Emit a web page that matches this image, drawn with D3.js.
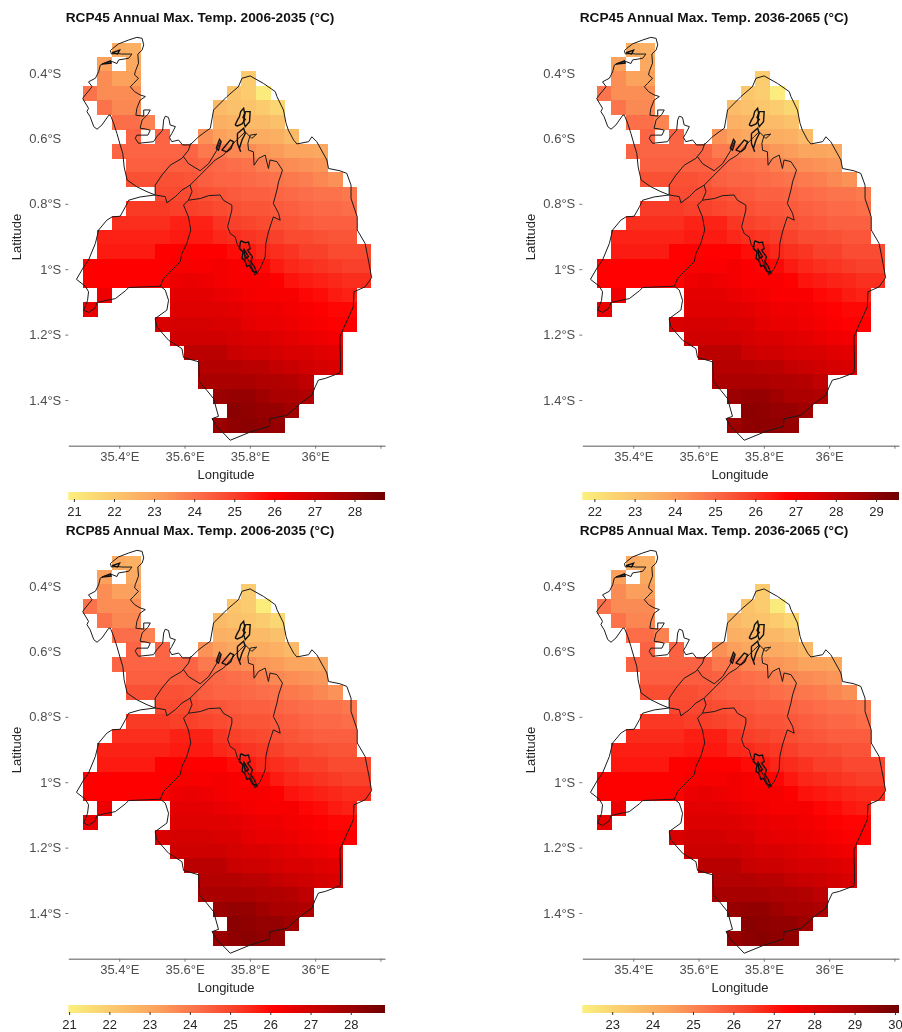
<!DOCTYPE html>
<html>
<head>
<meta charset="utf-8">
<script src="https://cdn.jsdelivr.net/npm/d3@7"></script>
<style>
  body { margin: 0; background: #fff; }
  svg { display: block; font-family: "Liberation Sans", Arial, sans-serif; filter: blur(0.4px); }
  .cell { shape-rendering: crispEdges; }
  .axis text { font-size: 13px; fill: #4d4d4d; }
  .bar-axis text { font-size: 13px; fill: #262626; }
  .axis-title { font-size: 13px; fill: #262626; text-anchor: middle; }
  .panel-title { font-size: 13.7px; font-weight: bold; fill: #111; text-anchor: middle; }
</style>
</head>
<body>
<svg id="chart" width="902" height="1032"></svg>
<script>
var _ = null;

// grid cell centres, degrees
var gridLons = [35.311, 35.355, 35.399, 35.443, 35.487, 35.532, 35.576, 35.620, 35.664, 35.708,
  35.752, 35.796, 35.840, 35.884, 35.928, 35.972, 36.017, 36.061, 36.105, 36.149];
var gridLats = [0.329, 0.373, 0.417, 0.462, 0.506, 0.550, 0.594, 0.638, 0.682, 0.726, 0.770, 0.814, 0.858, 0.902,
  0.946, 0.991, 1.035, 1.079, 1.123, 1.167, 1.211, 1.255, 1.299, 1.343, 1.388, 1.432, 1.476];

var titles = [
  "RCP45 Annual Max. Temp. 2006-2035 (°C)",
  "RCP45 Annual Max. Temp. 2036-2065 (°C)",
  "RCP85 Annual Max. Temp. 2006-2035 (°C)",
  "RCP85 Annual Max. Temp. 2036-2065 (°C)"
];

var lonTicks = [35.4, 35.6, 35.8, 36, 36.2];
var lonLabels = ["35.4°E", "35.6°E", "35.8°E", "36°E", ""];
var latTicks = [0.4, 0.6, 0.8, 1, 1.2, 1.4];
var latLabels = ["0.4°S", "0.6°S", "0.8°S", "1°S", "1.2°S", "1.4°S"];

// colour bar extents and ticks per panel
var barRanges = [[20.86, 28.76], [21.70, 29.57], [20.98, 28.85], [22.26, 30.10]];
var barTicks = [
  [21, 22, 23, 24, 25, 26, 27, 28],
  [22, 23, 24, 25, 26, 27, 28, 29],
  [21, 22, 23, 24, 25, 26, 27, 28],
  [23, 24, 25, 26, 27, 28, 29, 30]
];
var rampStops = [0, 0.28, 0.42, 0.53, 0.65, 1];
var rampColors = ["#fbf07e", "#fba25d", "#fc6a47", "#f93e28", "#ff0000", "#6e0000"];

var tempRcp45Near = [
  [_,_,22.8,22.7],
  [_,23.1,_,22.9],
  [_,23.5,23.1,23.1,_,_,_,_,_,_,_,21.9],
  [24.0,23.5,23.5,23.5,_,_,_,_,_,_,22.1,21.9,21.0],
  [_,24.0,23.6,23.6,_,_,_,_,_,22.4,22.2,22.1,21.9,21.6],
  [_,_,24.1,24.1,23.7,_,_,_,_,22.7,22.6,22.4,22.4,22.2],
  [_,_,_,24.3,_,24.3,_,_,23.4,23.1,22.9,22.8,22.8,22.7,22.4],
  [_,_,24.3,24.3,24.3,24.3,24.3,24.3,23.9,23.9,23.6,23.5,23.3,23.2,23.0,23.0,22.9],
  [_,_,_,24.4,24.4,24.4,24.4,24.4,24.3,24.2,24.1,24.0,23.8,23.6,23.5,23.4,23.3],
  [_,_,_,24.7,24.7,24.7,24.7,24.6,24.4,24.3,24.3,24.2,24.1,24.0,23.9,23.8,23.6,23.4],
  [_,_,_,_,_,24.8,24.8,24.8,24.7,24.6,24.5,24.4,24.4,24.3,24.2,24.1,24.0,24.0,23.9],
  [_,_,_,25.1,25.1,25.1,25.0,25.0,24.9,24.8,24.7,24.6,24.6,24.5,24.4,24.3,24.2,24.2,24.1],
  [_,_,25.3,25.3,25.3,25.3,25.5,25.5,25.5,25.2,25.0,24.9,24.8,24.7,24.6,24.5,24.4,24.4,24.4],
  [_,25.5,25.5,25.5,25.5,25.5,25.6,25.6,25.6,25.4,25.3,25.2,25.1,25.0,24.8,24.8,24.7,24.6,24.6],
  [_,25.6,25.6,25.6,25.6,26.0,26.0,26.0,26.0,26.0,25.8,25.6,25.4,25.3,25.2,25.0,25.0,24.8,24.8,24.8],
  [26.0,26.0,26.0,26.0,26.0,26.0,26.1,26.1,26.1,26.2,26.1,26.0,25.9,25.6,25.4,25.3,25.2,25.1,25.0,25.0],
  [26.0,26.0,26.0,26.0,26.0,26.0,26.3,26.4,26.3,26.2,26.1,26.1,26.1,26.0,25.7,25.6,25.5,25.4,25.3,25.3],
  [_,26.3,_,_,_,_,26.5,26.5,26.5,26.4,26.3,26.2,26.1,26.1,26.1,25.9,25.8,25.6,25.5],
  [26.4,_,_,_,_,_,26.6,26.6,26.6,26.6,26.5,26.4,26.3,26.3,26.2,26.1,26.0,25.9,25.9],
  [_,_,_,_,_,26.7,26.8,26.8,26.8,26.7,26.7,26.5,26.4,26.4,26.3,26.2,26.1,26.0,26.0],
  [_,_,_,_,_,_,26.9,26.9,26.9,26.9,26.8,26.7,26.7,26.6,26.5,26.4,26.3,26.2],
  [_,_,_,_,_,_,_,27.3,27.3,27.3,27.0,26.9,26.9,26.8,26.7,26.7,26.6,26.5],
  [_,_,_,_,_,_,_,_,27.4,27.4,27.4,27.3,27.3,27.1,27.0,26.9,26.8,26.7],
  [_,_,_,_,_,_,_,_,27.6,27.6,27.6,27.6,27.5,27.5,27.4,27.2],
  [_,_,_,_,_,_,_,_,_,27.9,28.0,28.0,27.8,27.6,27.6,27.5],
  [_,_,_,_,_,_,_,_,_,_,28.2,28.1,28.0,28.0,27.8],
  [_,_,_,_,_,_,_,_,_,27.9,28.1,28.2,28.1,28.0]
];

var tempRcp45Far = [
  [_,_,23.6,23.5],
  [_,23.9,_,23.7],
  [_,24.3,23.9,23.9,_,_,_,_,_,_,_,22.7],
  [24.8,24.3,24.3,24.3,_,_,_,_,_,_,22.9,22.7,21.8],
  [_,24.8,24.4,24.4,_,_,_,_,_,23.2,23.0,22.9,22.7,22.4],
  [_,_,24.9,24.9,24.5,_,_,_,_,23.5,23.4,23.2,23.2,23.0],
  [_,_,_,25.1,_,25.1,_,_,24.2,23.9,23.7,23.6,23.6,23.5,23.2],
  [_,_,25.1,25.1,25.1,25.1,25.1,25.1,24.7,24.7,24.4,24.3,24.1,24.0,23.8,23.8,23.7],
  [_,_,_,25.2,25.2,25.2,25.2,25.2,25.1,25.0,24.9,24.8,24.6,24.4,24.3,24.2,24.1],
  [_,_,_,25.5,25.5,25.5,25.5,25.4,25.2,25.1,25.1,25.0,24.9,24.8,24.7,24.6,24.4,24.2],
  [_,_,_,_,_,25.6,25.6,25.6,25.5,25.4,25.3,25.2,25.2,25.1,25.0,24.9,24.8,24.8,24.7],
  [_,_,_,25.9,25.9,25.9,25.8,25.8,25.7,25.6,25.5,25.4,25.4,25.3,25.2,25.1,25.0,25.0,24.9],
  [_,_,26.1,26.1,26.1,26.1,26.3,26.3,26.3,26.0,25.8,25.7,25.6,25.5,25.4,25.3,25.2,25.2,25.2],
  [_,26.3,26.3,26.3,26.3,26.3,26.4,26.4,26.4,26.2,26.1,26.0,25.9,25.8,25.6,25.6,25.5,25.4,25.4],
  [_,26.4,26.4,26.4,26.4,26.8,26.8,26.8,26.8,26.8,26.6,26.4,26.2,26.1,26.0,25.8,25.8,25.6,25.6,25.6],
  [26.8,26.8,26.8,26.8,26.8,26.8,26.9,26.9,26.9,27.0,26.9,26.8,26.7,26.4,26.2,26.1,26.0,25.9,25.8,25.8],
  [26.8,26.8,26.8,26.8,26.8,26.8,27.1,27.2,27.1,27.0,26.9,26.9,26.9,26.8,26.5,26.4,26.3,26.2,26.1,26.1],
  [_,27.1,_,_,_,_,27.3,27.3,27.3,27.2,27.1,27.0,26.9,26.9,26.9,26.7,26.6,26.4,26.3],
  [27.2,_,_,_,_,_,27.4,27.4,27.4,27.4,27.3,27.2,27.1,27.1,27.0,26.9,26.8,26.7,26.7],
  [_,_,_,_,_,27.5,27.6,27.6,27.6,27.5,27.5,27.3,27.2,27.2,27.1,27.0,26.9,26.8,26.8],
  [_,_,_,_,_,_,27.7,27.7,27.7,27.7,27.6,27.5,27.5,27.4,27.3,27.2,27.1,27.0],
  [_,_,_,_,_,_,_,28.1,28.1,28.1,27.8,27.7,27.7,27.6,27.5,27.5,27.4,27.3],
  [_,_,_,_,_,_,_,_,28.2,28.2,28.2,28.1,28.1,27.9,27.8,27.7,27.6,27.5],
  [_,_,_,_,_,_,_,_,28.4,28.4,28.4,28.4,28.3,28.3,28.2,28.0],
  [_,_,_,_,_,_,_,_,_,28.7,28.8,28.8,28.6,28.4,28.4,28.3],
  [_,_,_,_,_,_,_,_,_,_,29.0,28.9,28.8,28.8,28.6],
  [_,_,_,_,_,_,_,_,_,28.7,28.9,29.0,28.9,28.8]
];

var tempRcp85Near = [
  [_,_,22.9,22.8],
  [_,23.2,_,23.0],
  [_,23.6,23.2,23.2,_,_,_,_,_,_,_,22.0],
  [24.1,23.6,23.6,23.6,_,_,_,_,_,_,22.2,22.0,21.1],
  [_,24.1,23.7,23.7,_,_,_,_,_,22.5,22.3,22.2,22.0,21.7],
  [_,_,24.2,24.2,23.8,_,_,_,_,22.8,22.7,22.5,22.5,22.3],
  [_,_,_,24.4,_,24.4,_,_,23.5,23.2,23.0,22.9,22.9,22.8,22.5],
  [_,_,24.4,24.4,24.4,24.4,24.4,24.4,24.0,24.0,23.7,23.6,23.4,23.3,23.1,23.1,23.0],
  [_,_,_,24.5,24.5,24.5,24.5,24.5,24.4,24.3,24.2,24.1,23.9,23.7,23.6,23.5,23.4],
  [_,_,_,24.8,24.8,24.8,24.8,24.7,24.5,24.4,24.4,24.3,24.2,24.1,24.0,23.9,23.7,23.5],
  [_,_,_,_,_,24.9,24.9,24.9,24.8,24.7,24.6,24.5,24.5,24.4,24.3,24.2,24.1,24.1,24.0],
  [_,_,_,25.2,25.2,25.2,25.1,25.1,25.0,24.9,24.8,24.7,24.7,24.6,24.5,24.4,24.3,24.3,24.2],
  [_,_,25.4,25.4,25.4,25.4,25.6,25.6,25.6,25.3,25.1,25.0,24.9,24.8,24.7,24.6,24.5,24.5,24.5],
  [_,25.6,25.6,25.6,25.6,25.6,25.7,25.7,25.7,25.5,25.4,25.3,25.2,25.1,24.9,24.9,24.8,24.7,24.7],
  [_,25.7,25.7,25.7,25.7,26.1,26.1,26.1,26.1,26.1,25.9,25.7,25.5,25.4,25.3,25.1,25.1,24.9,24.9,24.9],
  [26.1,26.1,26.1,26.1,26.1,26.1,26.2,26.2,26.2,26.3,26.2,26.1,26.0,25.7,25.5,25.4,25.3,25.2,25.1,25.1],
  [26.1,26.1,26.1,26.1,26.1,26.1,26.4,26.5,26.4,26.3,26.2,26.2,26.2,26.1,25.8,25.7,25.6,25.5,25.4,25.4],
  [_,26.4,_,_,_,_,26.6,26.6,26.6,26.5,26.4,26.3,26.2,26.2,26.2,26.0,25.9,25.7,25.6],
  [26.5,_,_,_,_,_,26.7,26.7,26.7,26.7,26.6,26.5,26.4,26.4,26.3,26.2,26.1,26.0,26.0],
  [_,_,_,_,_,26.8,26.9,26.9,26.9,26.8,26.8,26.6,26.5,26.5,26.4,26.3,26.2,26.1,26.1],
  [_,_,_,_,_,_,27.0,27.0,27.0,27.0,26.9,26.8,26.8,26.7,26.6,26.5,26.4,26.3],
  [_,_,_,_,_,_,_,27.4,27.4,27.4,27.1,27.0,27.0,26.9,26.8,26.8,26.7,26.6],
  [_,_,_,_,_,_,_,_,27.5,27.5,27.5,27.4,27.4,27.2,27.1,27.0,26.9,26.8],
  [_,_,_,_,_,_,_,_,27.7,27.7,27.7,27.7,27.6,27.6,27.5,27.3],
  [_,_,_,_,_,_,_,_,_,28.0,28.1,28.1,27.9,27.7,27.7,27.6],
  [_,_,_,_,_,_,_,_,_,_,28.3,28.2,28.1,28.1,27.9],
  [_,_,_,_,_,_,_,_,_,28.0,28.2,28.3,28.2,28.1]
];

var tempRcp85Far = [
  [_,_,24.2,24.1],
  [_,24.5,_,24.3],
  [_,24.9,24.5,24.5,_,_,_,_,_,_,_,23.3],
  [25.4,24.9,24.9,24.9,_,_,_,_,_,_,23.5,23.3,22.4],
  [_,25.4,25.0,25.0,_,_,_,_,_,23.8,23.6,23.5,23.3,23.0],
  [_,_,25.5,25.5,25.1,_,_,_,_,24.1,24.0,23.8,23.8,23.6],
  [_,_,_,25.7,_,25.7,_,_,24.8,24.5,24.3,24.2,24.2,24.1,23.8],
  [_,_,25.7,25.7,25.7,25.7,25.7,25.7,25.3,25.3,25.0,24.9,24.7,24.6,24.4,24.4,24.3],
  [_,_,_,25.8,25.8,25.8,25.8,25.8,25.7,25.6,25.5,25.4,25.2,25.0,24.9,24.8,24.7],
  [_,_,_,26.1,26.1,26.1,26.1,26.0,25.8,25.7,25.7,25.6,25.5,25.4,25.3,25.2,25.0,24.8],
  [_,_,_,_,_,26.2,26.2,26.2,26.1,26.0,25.9,25.8,25.8,25.7,25.6,25.5,25.4,25.4,25.3],
  [_,_,_,26.5,26.5,26.5,26.4,26.4,26.3,26.2,26.1,26.0,26.0,25.9,25.8,25.7,25.6,25.6,25.5],
  [_,_,26.7,26.7,26.7,26.7,26.9,26.9,26.9,26.6,26.4,26.3,26.2,26.1,26.0,25.9,25.8,25.8,25.8],
  [_,26.9,26.9,26.9,26.9,26.9,27.0,27.0,27.0,26.8,26.7,26.6,26.5,26.4,26.2,26.2,26.1,26.0,26.0],
  [_,27.0,27.0,27.0,27.0,27.4,27.4,27.4,27.4,27.4,27.2,27.0,26.8,26.7,26.6,26.4,26.4,26.2,26.2,26.2],
  [27.4,27.4,27.4,27.4,27.4,27.4,27.5,27.5,27.5,27.6,27.5,27.4,27.3,27.0,26.8,26.7,26.6,26.5,26.4,26.4],
  [27.4,27.4,27.4,27.4,27.4,27.4,27.7,27.8,27.7,27.6,27.5,27.5,27.5,27.4,27.1,27.0,26.9,26.8,26.7,26.7],
  [_,27.7,_,_,_,_,27.9,27.9,27.9,27.8,27.7,27.6,27.5,27.5,27.5,27.3,27.2,27.0,26.9],
  [27.8,_,_,_,_,_,28.0,28.0,28.0,28.0,27.9,27.8,27.7,27.7,27.6,27.5,27.4,27.3,27.3],
  [_,_,_,_,_,28.1,28.2,28.2,28.2,28.1,28.1,27.9,27.8,27.8,27.7,27.6,27.5,27.4,27.4],
  [_,_,_,_,_,_,28.3,28.3,28.3,28.3,28.2,28.1,28.1,28.0,27.9,27.8,27.7,27.6],
  [_,_,_,_,_,_,_,28.7,28.7,28.7,28.4,28.3,28.3,28.2,28.1,28.1,28.0,27.9],
  [_,_,_,_,_,_,_,_,28.8,28.8,28.8,28.7,28.7,28.5,28.4,28.3,28.2,28.1],
  [_,_,_,_,_,_,_,_,29.0,29.0,29.0,29.0,28.9,28.9,28.8,28.6],
  [_,_,_,_,_,_,_,_,_,29.3,29.4,29.4,29.2,29.0,29.0,28.9],
  [_,_,_,_,_,_,_,_,_,_,29.6,29.5,29.4,29.4,29.2],
  [_,_,_,_,_,_,_,_,_,29.3,29.5,29.6,29.5,29.4]
];

// boundary, [lon, lat south]
var outerBorder = [
  [35.510,.773],[35.485,.763],[35.454,.748],[35.424,.727],[35.415,.687],[35.411,.646],[35.403,.620],[35.393,.585],
  [35.383,.554],[35.373,.529],[35.368,.529],[35.347,.559],[35.332,.572],[35.322,.564],[35.311,.534],[35.301,.518],
  [35.306,.508],[35.288,.478],[35.296,.467],[35.317,.442],[35.306,.427],[35.327,.416],[35.337,.396],[35.342,.376],
  [35.352,.371],[35.378,.365],[35.393,.371],[35.398,.360],[35.429,.355],[35.439,.342],[35.408,.342],[35.393,.340],
  [35.376,.342],[35.373,.332],[35.380,.325],[35.398,.311],[35.429,.299],[35.454,.291],[35.470,.294],[35.475,.314],
  [35.470,.330],[35.457,.342],[35.459,.370],[35.449,.396],[35.447,.406],[35.459,.416],[35.444,.432],[35.434,.442],
  [35.447,.457],[35.464,.467],[35.480,.472],[35.464,.483],[35.454,.508],[35.451,.529],[35.475,.532],[35.475,.513],
  [35.495,.513],[35.488,.526],[35.470,.544],[35.464,.569],[35.480,.571],[35.495,.575],[35.488,.590],[35.454,.590],
  [35.449,.600],[35.459,.615],[35.505,.610],[35.515,.595],[35.533,.575],[35.536,.544],[35.541,.532],[35.551,.536],
  [35.556,.559],[35.572,.564],[35.561,.585],[35.554,.597],[35.561,.610],[35.582,.605],[35.594,.620],[35.617,.620],
  [35.643,.595],[35.663,.580],[35.679,.569],[35.689,.513],[35.730,.472],[35.765,.442],[35.776,.416],[35.801,.409],
  [35.842,.432],[35.878,.457],[35.883,.472],[35.903,.513],[35.911,.554],[35.918,.575],[35.934,.605],[35.944,.617],
  [35.980,.610],[35.990,.595],[36.005,.610],[36.036,.666],[36.041,.692],[36.076,.699],[36.097,.707],[36.110,.743],
  [36.110,.784],[36.129,.840],[36.129,.880],[36.153,.921],[36.165,.982],[36.173,1.026],[36.153,1.054],[36.119,1.069],
  [36.117,1.115],[36.087,1.181],[36.076,1.207],[36.078,1.299],[36.076,1.317],[36.031,1.334],[36.010,1.339],[36.000,1.360],
  [35.990,1.385],[35.954,1.411],[35.913,1.447],[35.862,1.457],[35.860,1.480],[35.801,1.498],[35.740,1.523],[35.719,1.501],
  [35.699,1.482],[35.684,1.457],[35.704,1.450],[35.689,1.396],[35.668,1.370],[35.646,1.345],[35.643,1.283],[35.597,1.270],
  [35.592,1.243],[35.551,1.217],[35.515,1.176],[35.510,1.151],[35.546,1.125],[35.551,1.095],[35.541,1.064],[35.526,1.052],
  [35.429,1.056],[35.419,1.066],[35.388,1.090],[35.362,1.095],[35.332,1.102],[35.325,1.120],[35.306,1.132],[35.291,1.125],
  [35.303,1.095],[35.306,1.069],[35.296,1.052],[35.269,1.031],[35.291,.993],[35.306,.972],[35.327,.921],[35.337,.880],
  [35.362,.850],[35.378,.840],[35.403,.838],[35.419,.809],[35.429,.789],[35.464,.779],[35.510,.773]
];

var countyLines = [
  [[35.526,1.052],[35.536,1.028],[35.546,1.018],[35.587,.977],[35.592,.952],[35.607,.921],[35.619,.880],[35.612,.840],
   [35.597,.804],[35.612,.789],[35.623,.763],[35.617,.743]],
  [[35.510,.773],[35.541,.778],[35.546,.797],[35.572,.778],[35.592,.758],[35.617,.743],[35.633,.727],[35.668,.692],
   [35.694,.666],[35.719,.651],[35.755,.610],[35.770,.595]],
  [[35.510,.773],[35.510,.743],[35.531,.712],[35.556,.682],[35.592,.661],[35.612,.636],[35.619,.615]],
  [[35.597,.656],[35.612,.677],[35.648,.699],[35.674,.677],[35.699,.636],[35.709,.610]],
  [[35.612,.789],[35.648,.784],[35.674,.775],[35.709,.773],[35.719,.789],[35.745,.804],[35.745,.819],[35.732,.870],
   [35.740,.891],[35.755,.901],[35.762,.926],[35.786,.957],[35.801,.982],[35.816,1.018]],
  [[35.816,1.018],[35.832,.998],[35.847,.962],[35.849,.921],[35.857,.886],[35.872,.840],[35.893,.850],[35.888,.829],
   [35.872,.799],[35.883,.758],[35.888,.733],[35.900,.697],[35.883,.671],[35.862,.666],[35.857,.692],[35.847,.651],
   [35.827,.661],[35.813,.682],[35.811,.641],[35.796,.636],[35.794,.615],[35.801,.590],[35.821,.587],[35.806,.600],
   [35.786,.580],[35.770,.595]]
];

var lakes = [
  [[35.755,.559],[35.762,.544],[35.768,.534],[35.772,.518],[35.781,.508],[35.784,.523],[35.779,.536],[35.786,.542],[35.776,.556],[35.762,.562],[35.755,.559]],
  [[35.786,.518],[35.801,.518],[35.799,.549],[35.786,.564],[35.781,.549],[35.786,.518]],
  [[35.762,.585],[35.781,.569],[35.786,.585],[35.776,.605],[35.768,.631],[35.772,.641],[35.762,.615],[35.762,.585]],
  [[35.697,.631],[35.707,.603],[35.712,.610],[35.704,.636],[35.697,.631]],
  [[35.714,.636],[35.740,.605],[35.750,.610],[35.742,.631],[35.730,.641],[35.714,.636]],
  [[35.772,.913],[35.786,.919],[35.796,.917],[35.801,.937],[35.793,.942],[35.808,.962],[35.803,.977],[35.814,.993],[35.821,1.011],
   [35.808,1.005],[35.799,.988],[35.791,.991],[35.784,.972],[35.776,.967],[35.779,.947],[35.768,.937],[35.772,.913]],
  [[35.781,.937],[35.796,.962],[35.786,.967],[35.781,.937]],
  [[35.378,.338],[35.401,.330],[35.395,.342],[35.378,.338]],
  [[35.347,.373],[35.373,.363],[35.375,.370],[35.347,.373]]
];

var panelGrids = [tempRcp45Near, tempRcp45Far, tempRcp85Near, tempRcp85Far];
var panelOffsets = [[0, 0], [514, 0], [0, 513], [514, 513]];

var svg = d3.select("#chart"),
    margin = {top: 30, left: 68.3};

var xScale = d3.scaleLinear().domain([35.244, 36.214]).range([margin.left, 385]),
    yScale = d3.scaleLinear().domain([0.2685, 1.5397]).range([margin.top, 445.7]);

var cellW = xScale(gridLons[1]) - xScale(gridLons[0]),
    cellH = yScale(gridLats[1]) - yScale(gridLats[0]);

var path = d3.line()
    .x(function(d) { return xScale(d[0]); })
    .y(function(d) { return yScale(d[1]); });

var defs = svg.append("defs");

panelGrids.forEach(function(grid, p) {
  var g = svg.append("g")
      .attr("class", "panel")
      .attr("transform", "translate(" + panelOffsets[p][0] + "," + panelOffsets[p][1] + ")");

  var lo = barRanges[p][0], hi = barRanges[p][1];
  var color = d3.scaleLinear()
      .domain(rampStops.map(function(s) { return lo + s * (hi - lo); }))
      .range(rampColors);

  // flatten to cells, skip the missing ones
  var cells = [];
  grid.forEach(function(row, r) {
    row.forEach(function(v, c) {
      if (v !== null) cells.push({lon: gridLons[c], lat: gridLats[r], value: v});
    });
  });

  g.selectAll(".cell")
    .data(cells)
    .enter().append("rect")
      .attr("class", "cell")
      .attr("x", function(d) { return xScale(d.lon) - cellW / 2; })
      .attr("y", function(d) { return yScale(d.lat) - cellH / 2; })
      .attr("width", cellW + 0.5)
      .attr("height", cellH + 0.5)
      .attr("fill", function(d) { return color(d.value); });

  // borders
  g.append("path")
      .attr("d", path(outerBorder))
      .attr("fill", "none")
      .attr("stroke", "#1a1a1a")
      .attr("stroke-width", 1);

  g.selectAll(".county")
    .data(countyLines)
    .enter().append("path")
      .attr("class", "county")
      .attr("d", path)
      .attr("fill", "none")
      .attr("stroke", "#1a1a1a")
      .attr("stroke-width", 1);

  g.selectAll(".lake")
    .data(lakes)
    .enter().append("path")
      .attr("class", "lake")
      .attr("d", path)
      .attr("fill", "none")
      .attr("stroke", "#111")
      .attr("stroke-width", 1.4);

  // axes
  var xAxis = g.append("g")
      .attr("class", "axis axis--x")
      .attr("transform", "translate(0,445.7)")
      .call(d3.axisBottom(xScale)
        .tickValues(lonTicks)
        .tickFormat(function(d, i) { return lonLabels[i]; })
        .tickSize(3)
        .tickSizeOuter(0)
        .tickPadding(3));
  xAxis.select(".domain").attr("stroke", "#8f8f8f").attr("stroke-width", 1.4);
  xAxis.selectAll(".tick line").attr("stroke", "#777");

  var yAxis = g.append("g")
      .attr("class", "axis axis--y")
      .attr("transform", "translate(" + margin.left + ",0)")
      .call(d3.axisLeft(yScale)
        .tickValues(latTicks)
        .tickFormat(function(d, i) { return latLabels[i]; })
        .tickSize(3)
        .tickPadding(4));
  yAxis.select(".domain").remove();
  yAxis.selectAll(".tick line")
      .attr("stroke", "#777")
      .filter(function(d) { return d < 0.7; })
      .remove();

  g.append("text")
      .attr("class", "axis-title")
      .attr("x", 226)
      .attr("y", 478.5)
      .text("Longitude");

  g.append("text")
      .attr("class", "axis-title")
      .attr("transform", "translate(21,237) rotate(-90)")
      .text("Latitude");

  g.append("text")
      .attr("class", "panel-title")
      .attr("x", 200)
      .attr("y", 21.5)
      .text(titles[p]);

  // colour bar
  var barScale = d3.scaleLinear().domain([lo, hi]).range([margin.left, 385]);
  var grad = defs.append("linearGradient").attr("id", "ramp" + p);
  rampStops.forEach(function(s, i) {
    grad.append("stop")
        .attr("offset", s)
        .attr("stop-color", rampColors[i]);
  });

  g.append("rect")
      .attr("x", margin.left)
      .attr("y", 492)
      .attr("width", 385 - margin.left)
      .attr("height", 8)
      .attr("fill", "url(#ramp" + p + ")");

  var barAxis = g.append("g")
      .attr("class", "bar-axis")
      .attr("transform", "translate(0,499)")
      .call(d3.axisBottom(barScale)
        .tickValues(barTicks[p])
        .tickFormat(d3.format("d"))
        .tickSize(3)
        .tickPadding(4.5));
  barAxis.select(".domain").remove();
  barAxis.selectAll(".tick line").attr("stroke", "#333");
});
</script>
</body>
</html>
